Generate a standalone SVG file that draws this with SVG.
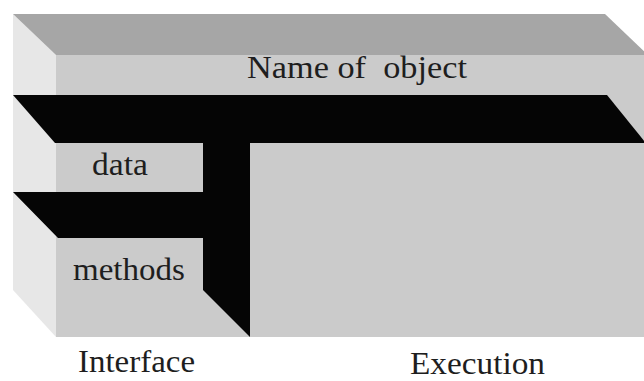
<svg xmlns="http://www.w3.org/2000/svg" width="644" height="381" viewBox="0 0 644 381">
<style>
.t{font-family:"Liberation Serif","Times New Roman",serif;font-size:31px;fill:#1e1e1e;white-space:pre}
.blk{fill:#050505}
</style>
<rect x="0" y="0" width="644" height="381" fill="#ffffff"/>
<g id="box">
<rect id="front" x="56" y="55" width="600" height="282" fill="#cbcbcb"/>
<polygon id="left" points="13,14 56,55 56,337 13,290" fill="#e7e7e7"/>
<polygon id="top" points="13,14 605,14 648,55 56,55" fill="#a6a6a6"/>
<polygon id="band1" class="blk" points="13,95 607,95 645,142 645,143 55,143"/>
<polygon id="band2" class="blk" points="203,143 250,143 250,337 203,290 203,238 58,238 13,192 203,192"/>
</g>
<g id="labels">
<text class="t" x="247" y="78" textLength="220" lengthAdjust="spacingAndGlyphs">Name of  object</text>
<text class="t" x="92" y="175" textLength="56" lengthAdjust="spacingAndGlyphs">data</text>
<text class="t" x="73" y="280" textLength="112" lengthAdjust="spacingAndGlyphs">methods</text>
<text class="t" x="78" y="372" textLength="117" lengthAdjust="spacingAndGlyphs">Interface</text>
<text class="t" x="410" y="374" font-size="29" textLength="135" lengthAdjust="spacingAndGlyphs">Execution</text>
</g>
</svg>
